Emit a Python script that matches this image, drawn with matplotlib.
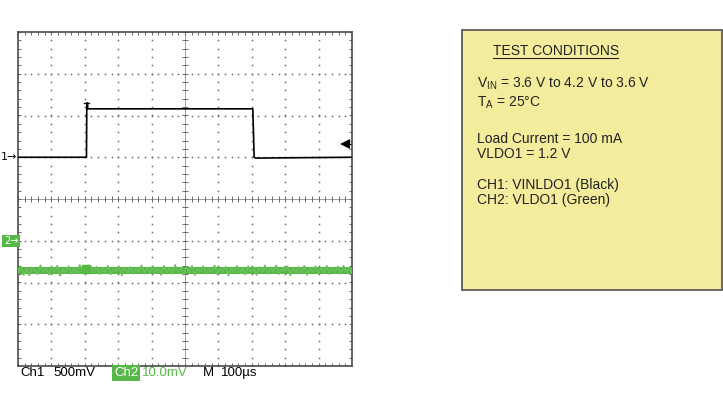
import numpy as np
import matplotlib
matplotlib.use("Agg")
import matplotlib.pyplot as plt
from matplotlib.patches import Rectangle

plt.rcParams['mathtext.fontset'] = 'custom'
plt.rcParams['mathtext.rm'] = 'Liberation Sans'

# scope settings
ch1_scale = 0.5      # V/div
ch1_offset = 1.0     # div, position of the "1" marker
ch1_ref = 3.6        # V at the marker
ch2_scale = 10.0     # mV/div
ch2_offset = -1.0    # div, position of the "2" marker
time_scale = 100.0   # us/div
trig_div = 1.32      # trigger level arrow

# CH1: VINLDO1 step, time in us, volts
ch1_t = [0, 205, 206, 208, 209, 703, 707, 712, 1000]
ch1_v = [3.6, 3.6, 4.25, 4.25, 4.18, 4.18, 3.6, 3.59, 3.6]

# CH2: VLDO1 ripple, mV relative to the channel 2 marker
ch2_mv = [-7.6, -6.1, -8.2, -6.6, -8.3, -6.4, -7.1, -8.0, -5.9, -7.4,
          -6.5, -8.1, -6.3, -7.5, -6.0, -8.4, -6.8, -7.6, -6.1, -7.9,
          -6.5, -7.8, -5.8, -7.4, -6.6, -5.9, -6.2, -7.6, -6.2, -8.0,
          -6.5, -7.7, -6.0, -8.1, -6.7, -7.4, -6.2, -8.3, -6.4, -7.6,
          -6.3, -7.9, -6.7, -7.5, -5.9, -7.9, -6.5, -7.8, -6.1, -7.5,
          -6.4, -8.2, -6.0, -7.4, -6.6, -7.9, -5.8, -7.6, -6.5, -8.1,
          -6.3, -7.5, -6.0, -8.2, -6.6, -7.3, -6.1, -7.9, -6.5, -7.6,
          -5.9, -8.0, -6.6, -7.4, -6.2, -8.3, -6.4, -7.5, -6.0, -7.8,
          -6.5, -8.1, -6.1, -7.4, -6.6, -8.2, -6.3, -7.6, -5.9, -7.9,
          -6.4, -7.5, -5.9, -8.0, -6.6, -7.3, -6.1, -8.3, -6.5, -7.6,
          -6.3, -7.8, -6.0, -8.2, -6.6, -7.4, -6.1, -7.9, -6.4, -7.5,
          -6.0, -8.0, -6.5, -7.6, -6.2, -7.9, -6.0, -7.5, -6.6, -7.8]
ch2_core_lo = -7.9   # dense part of the trace
ch2_core_hi = -6.2

scope_labels = ["Ch1", "500mV", "Ch2", "10.0mV", "M", "100\u00b5s"]

box_title = "TEST CONDITIONS"
box_lines = [
    (r"V$_{\mathrm{IN}}$ = 3.6 V to 4.2 V to 3.6 V", 84),
    (r"T$_{\mathrm{A}}$ = 25°C", 103),
    ("Load Current = 100 mA", 139),
    ("VLDO1 = 1.2 V", 154),
    ("CH1: VINLDO1 (Black)", 185),
    ("CH2: VLDO1 (Green)", 200),
]

W, H = 723, 404
green = '#56b847'
yellow = '#f2ec9c'
grey = '#6a6a6a'

fig = plt.figure(figsize=(W / 100, H / 100), dpi=100)


def fx(px):
    return px / W


def fy(py):
    return 1 - py / H


# scope screen: 10 x 8 divisions
ax = fig.add_axes([fx(18), fy(366), fx(352) - fx(18), fy(32) - fy(366)])
ax.set_xlim(0, 10)
ax.set_ylim(-4, 4)
ax.set_xticks([])
ax.set_yticks([])
for s in ax.spines.values():
    s.set_color('#4a4a4a')
    s.set_linewidth(1.2)

# dotted graticule
fine_x = np.arange(0, 10.001, 0.2)
fine_y = np.arange(-4, 4.001, 0.2)
for gy in [-3, -2, -1, 1, 2, 3]:
    ax.plot(fine_x, np.full_like(fine_x, gy), ls='none', marker='s', ms=1.1,
            mew=0, color=grey)
for gx in [1, 2, 3, 4, 6, 7, 8, 9]:
    ax.plot(np.full_like(fine_y, gx), fine_y, ls='none', marker='s', ms=1.1,
            mew=0, color=grey)

# centre crosshair with minor ticks
ax.axhline(0, color='#9a9a9a', lw=0.7)
ax.axvline(5, color='#9a9a9a', lw=0.7)
ax.vlines(fine_x, -0.08, 0.08, color=grey, lw=0.7)
ax.hlines(fine_y, 4.9, 5.1, color=grey, lw=0.7)

# edge ticks
ax.vlines(fine_x, 3.92, 4, color=grey, lw=0.7)
ax.vlines(fine_x, -4, -3.92, color=grey, lw=0.7)
ax.hlines(fine_y, 0, 0.1, color=grey, lw=0.7)
ax.hlines(fine_y, 9.9, 10, color=grey, lw=0.7)

# channel 2 trace
ch2_x = np.linspace(0, 10, len(ch2_mv))
ch2_y = ch2_offset + np.array(ch2_mv) / ch2_scale
ax.fill_between([0, 10], ch2_offset + ch2_core_lo / ch2_scale,
                ch2_offset + ch2_core_hi / ch2_scale, color=green, lw=0,
                zorder=3)
ax.plot(ch2_x, ch2_y, color='#6cc05c', lw=1.2, zorder=4)
ax.plot([ch1_t[1] / time_scale], [ch2_offset - 0.68], marker='s', ms=6,
        color=green, zorder=5)

# channel 1 trace
ch1_x = np.array(ch1_t) / time_scale
ch1_y = ch1_offset + (np.array(ch1_v) - ch1_ref) / ch1_scale
ax.plot(ch1_x, ch1_y, color='black', lw=1.2, zorder=6)
ax.plot([1.97, 2.13], [ch1_y[2], ch1_y[2]], color='black', lw=0.9, zorder=6)

# trigger level arrow
ax.plot([9.8, 10], [trig_div, trig_div], color='black', lw=1)
ax.plot([9.8], [trig_div], marker='<', ms=7, color='black', mew=0)

# channel markers on the left
fig.text(fx(17), fy(157), "1\u2192", ha='right', va='center', fontsize=8,
         color='black')
fig.text(fx(11), fy(241), "2\u2192", ha='center', va='center', fontsize=7,
         color='white',
         bbox=dict(boxstyle='square,pad=0.15', fc=green, ec='none'))

# readout line under the screen
ro_font = 'Liberation Sans'
ro_size = 9.5
ro_y = fy(373)
fig.text(fx(20), ro_y, scope_labels[0], ha='left', va='center',
         fontsize=ro_size, family=ro_font)
fig.text(fx(53), ro_y, scope_labels[1], ha='left', va='center',
         fontsize=ro_size, family=ro_font)
fig.text(fx(114), ro_y, scope_labels[2], ha='left', va='center',
         fontsize=ro_size, family=ro_font, color='white',
         bbox=dict(boxstyle='square,pad=0.12', fc=green, ec='none'))
fig.text(fx(142), ro_y, scope_labels[3], ha='left', va='center',
         fontsize=ro_size, family=ro_font, color=green)
fig.text(fx(203), ro_y, scope_labels[4], ha='left', va='center',
         fontsize=ro_size, family=ro_font)
fig.text(fx(221), ro_y, scope_labels[5], ha='left', va='center',
         fontsize=ro_size, family=ro_font)

# test conditions box
fig.patches.append(Rectangle((fx(462), fy(290)), fx(722) - fx(462),
                             fy(30) - fy(290), transform=fig.transFigure,
                             fc=yellow, ec='#505050', lw=1.2))
fig.text(fx(493), fy(51), box_title, ha='left', va='center', fontsize=10,
         family='Liberation Sans', color='#222222')
fig.add_artist(plt.Line2D([fx(493), fx(618)], [fy(58), fy(58)],
                          color='#222222', lw=0.8))
for txt, py in box_lines:
    fig.text(fx(477), fy(py), txt, ha='left', va='center', fontsize=10,
             family='Liberation Sans', color='#222222')

fig.savefig("out.png", dpi=100)
